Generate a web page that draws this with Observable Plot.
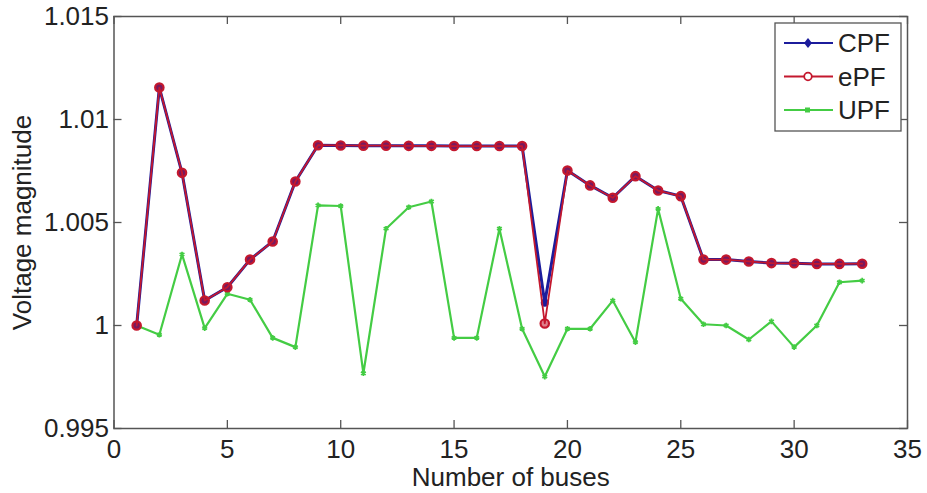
<!DOCTYPE html>
<html>
<head>
<meta charset="utf-8">
<script src="https://cdn.jsdelivr.net/npm/d3@7"></script>
<script src="https://cdn.jsdelivr.net/npm/@observablehq/plot@0.6"></script>
<style>
  html, body { margin: 0; padding: 0; background: #fff; }
  #chart { width: 927px; height: 493px; }
</style>
</head>
<body>
<div id="chart"></div>
<script>
// ---- data ----
const buses = [1,2,3,4,5,6,7,8,9,10,11,12,13,14,15,16,17,18,19,20,21,22,23,24,25,26,27,28,29,30,31,32,33];
const cpf = [1.0000, 1.01155, 1.00741, 1.00121, 1.00186, 1.0032, 1.00408, 1.00699, 1.00875, 1.00874, 1.00873,
             1.00873, 1.00872, 1.00872, 1.00871, 1.00871, 1.00871, 1.00871, 1.0011, 1.00752, 1.0068, 1.0062,
             1.00725, 1.00655, 1.00628, 1.0032, 1.0032, 1.00311, 1.00303, 1.00302, 1.00299, 1.00299, 1.0030];
const epf = [1.0000, 1.01155, 1.00741, 1.00121, 1.00186, 1.0032, 1.00408, 1.00699, 1.00875, 1.00874, 1.00873,
             1.00873, 1.00872, 1.00872, 1.00871, 1.00871, 1.00871, 1.00871, 1.0001, 1.00752, 1.0068, 1.0062,
             1.00725, 1.00655, 1.00628, 1.0032, 1.0032, 1.00311, 1.00303, 1.00302, 1.00299, 1.00299, 1.0030];
const upf = [1.0000, 0.99955, 1.00345, 0.99987, 1.00154, 1.00125, 0.9994, 0.99895, 1.00583, 1.0058, 0.99768,
             1.0047, 1.00574, 1.00602, 0.9994, 0.9994, 1.0047, 0.99984, 0.99752, 0.99984, 0.99984, 1.00121,
             0.99919, 1.00566, 1.0013, 1.00006, 1.0000, 0.99932, 1.0002, 0.99895, 1.0000, 1.0021, 1.00218];
const seriesNames = ["CPF", "ePF", "UPF"];
const xTicks = [0, 5, 10, 15, 20, 25, 30, 35];
const xTickLabels = ["0", "5", "10", "15", "20", "25", "30", "35"];
const yTicks = [0.995, 1.0, 1.005, 1.01, 1.015];
const yTickLabels = ["0.995", "1", "1.005", "1.01", "1.015"];
const xLabel = "Number of buses";
const yLabel = "Voltage magnitude";

// ---- style / layout ----
const W = 927, H = 493;
const mL = 113.5, mR = 20, mT = 16, mB = 65;
const plotH = H - mT - mB, plotW = W - mL - mR;
const colBlue = "#1c1c9c", colRed = "#c4182e", colGreen = "#44cc44", axisCol = "#555";
const FONT = "'Liberation Sans', Arial, Helvetica, sans-serif";

const rows = (vals) => buses.map((b, i) => ({bus: b, v: vals[i]}));
const cpfRows = rows(cpf), epfRows = rows(epf), upfRows = rows(upf);

const chart = Plot.plot({
  width: W, height: H,
  marginLeft: mL, marginRight: mR, marginTop: mT, marginBottom: mB,
  style: {fontFamily: FONT, fontSize: "26px", color: "#222", background: "white", overflow: "visible"},
  x: {domain: [0, 35], label: null},
  y: {domain: [0.995, 1.015], label: null},
  marks: [
    Plot.frame({stroke: axisCol, strokeWidth: 1.5}),
    Plot.tickX(xTicks, {x: d => d, insetTop: plotH - 8, stroke: axisCol, strokeWidth: 1.3}),
    Plot.tickX(xTicks, {x: d => d, insetBottom: plotH - 8, stroke: axisCol, strokeWidth: 1.3}),
    Plot.tickY(yTicks, {y: d => d, insetRight: plotW - 8, stroke: axisCol, strokeWidth: 1.3}),
    Plot.tickY(yTicks, {y: d => d, insetLeft: plotW - 8, stroke: axisCol, strokeWidth: 1.3}),
    Plot.axisX({ticks: xTicks, tickSize: 0, tickPadding: 11, fontSize: 26,
      tickFormat: d => xTickLabels[xTicks.indexOf(d)], label: null}),
    Plot.axisY({ticks: yTicks, tickSize: 0, tickPadding: 5, fontSize: 26,
      tickFormat: d => yTickLabels[yTicks.indexOf(d)], label: null}),
    Plot.text([xLabel], {text: d => d, frameAnchor: "bottom", lineAnchor: "middle", textAnchor: "middle",
      dy: 49, fontSize: 26, fill: "#222"}),
    Plot.text([yLabel], {text: d => d, frameAnchor: "left", lineAnchor: "middle", textAnchor: "middle",
      dx: -91, rotate: -90, fontSize: 26, fill: "#222"}),
    // UPF
    Plot.line(upfRows, {x: "bus", y: "v", stroke: colGreen, strokeWidth: 2.2}),
    Plot.dot(upfRows, {x: "bus", y: "v", symbol: "asterisk", r: 2.6, stroke: colGreen, strokeWidth: 1.8}),
    // CPF
    Plot.line(cpfRows, {x: "bus", y: "v", stroke: colBlue, strokeWidth: 3}),
    Plot.dot(cpfRows, {x: "bus", y: "v", r: 4, fill: colBlue, stroke: "none"}),
    // ePF
    Plot.line(epfRows, {x: "bus", y: "v", stroke: colRed, strokeWidth: 1.8}),
    Plot.dot(epfRows, {x: "bus", y: "v", r: 4.2, fill: colRed, fillOpacity: 0.55, stroke: colRed, strokeWidth: 2.2})
  ]
});

// ---- legend inside plot area (top-right) ----
const svg = d3.select(chart);
const lg = svg.append("g").attr("transform", "translate(775,23)");
lg.append("rect").attr("width", 126).attr("height", 108)
  .attr("fill", "white").attr("stroke", axisCol).attr("stroke-width", 1.3);
const legendItems = [
  {name: seriesNames[0], color: colBlue, marker: "diamond"},
  {name: seriesNames[1], color: colRed, marker: "circle"},
  {name: seriesNames[2], color: colGreen, marker: "square"}
];
legendItems.forEach((it, i) => {
  const y = 20 + i * 33.5;
  lg.append("line").attr("x1", 9).attr("x2", 58).attr("y1", y).attr("y2", y)
    .attr("stroke", it.color).attr("stroke-width", 2.2);
  if (it.marker === "diamond") {
    lg.append("path").attr("d", `M33,${y - 5}L37,${y}L33,${y + 5}L29,${y}Z`).attr("fill", it.color);
  } else if (it.marker === "circle") {
    lg.append("circle").attr("cx", 33).attr("cy", y).attr("r", 3.8)
      .attr("fill", "white").attr("stroke", it.color).attr("stroke-width", 1.8);
  } else {
    lg.append("rect").attr("x", 30).attr("y", y - 2.5).attr("width", 5).attr("height", 5).attr("fill", it.color);
  }
  lg.append("text").attr("x", 63).attr("y", y).attr("dy", "0.36em")
    .attr("text-anchor", "start")
    .attr("font-family", FONT).attr("font-size", 26).attr("fill", "#222").text(it.name);
});

document.getElementById("chart").appendChild(chart);
</script>
</body>
</html>
